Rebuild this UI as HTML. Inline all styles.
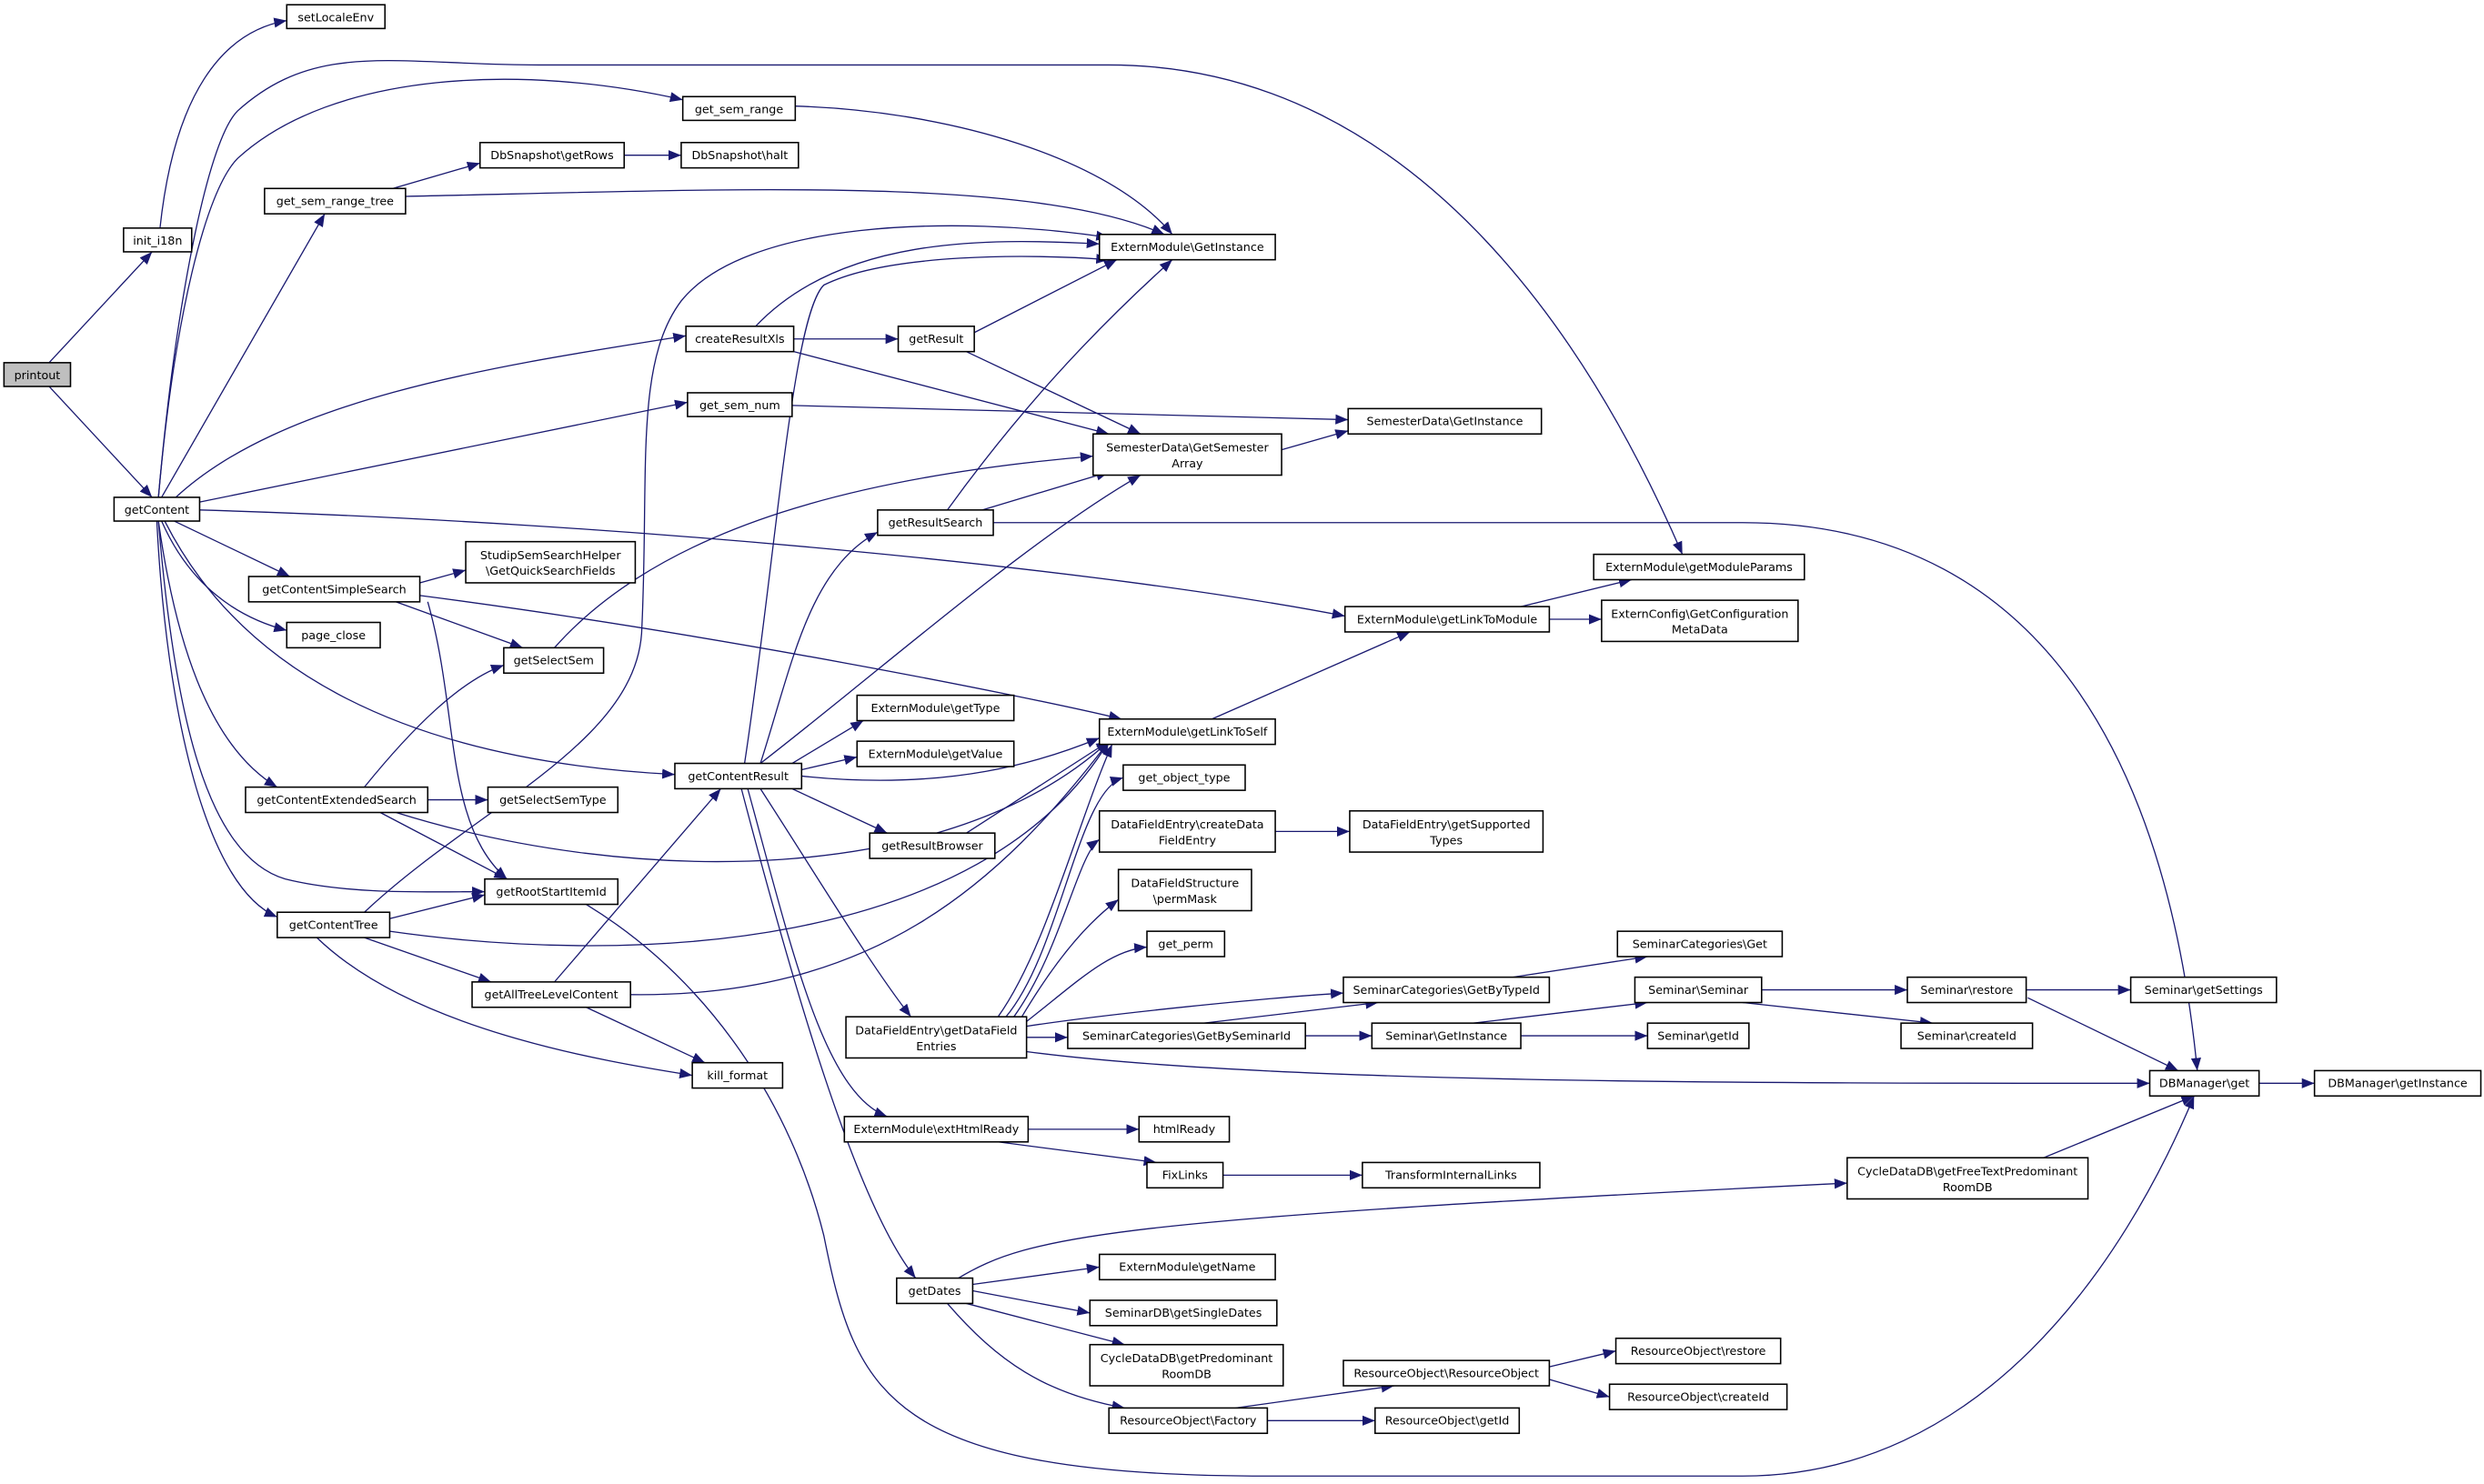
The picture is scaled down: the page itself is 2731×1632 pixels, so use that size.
<!DOCTYPE html>
<html><head><meta charset="utf-8"><style>
html,body{margin:0;padding:0;background:#fff;}
svg{display:block;}
text{font-family:"DejaVu Sans","Liberation Sans",sans-serif;font-size:7.3px;fill:#000;text-anchor:middle;}
.n{fill:#fff;stroke:#000;stroke-width:0.9;}
.e{fill:none;stroke:#191970;stroke-width:0.75;marker-end:url(#a);}
</style></head><body>
<svg width="2731" height="1632" viewBox="0 0 1568 937" xmlns="http://www.w3.org/2000/svg">
<defs><marker id="a" viewBox="0 0 10 10" refX="10" refY="5" markerWidth="8" markerHeight="8" markerUnits="userSpaceOnUse" orient="auto"><path d="M0,1 L10,5 L0,9 z" fill="#191970"/></marker></defs>
<g>
<path class="e" d="M31,229 L96,159"/>
<path class="e" d="M31,244 L96,314"/>
<path class="e" d="M101,144 C110,60 140,20 181,13"/>
<path class="e" d="M100,314 C110,200 130,90 150,70 C200,25 250,41 340,41 L700,41 C900,41 1010,230 1062,350"/>
<path class="e" d="M100,314 C110,200 130,120 150,100 C210,45 330,40 431,63"/>
<path class="e" d="M502,67 C600,70 700,100 740,148"/>
<path class="e" d="M248,119 L303,103"/>
<path class="e" d="M394,98 L430,98"/>
<path class="e" d="M256,124 C450,120 650,110 735,148"/>
<path class="e" d="M102,314 L205,135"/>
<path class="e" d="M111,314 C180,250 320,230 433,212"/>
<path class="e" d="M126,317 L434,254"/>
<path class="e" d="M126,322 C400,330 700,360 849,389"/>
<path class="e" d="M110,329 L183,364"/>
<path class="e" d="M102,329 C120,370 150,390 181,398"/>
<path class="e" d="M104,329 C150,420 250,480 426,489"/>
<path class="e" d="M100,329 C110,400 130,470 175,497"/>
<path class="e" d="M100,329 C110,450 130,540 180,555 C220,565 270,563 306,563"/>
<path class="e" d="M99,329 C105,450 130,560 175,579"/>
<path class="e" d="M477,206 C530,150 620,150 694,154"/>
<path class="e" d="M501,214 L567,214"/>
<path class="e" d="M501,222 L700,274"/>
<path class="e" d="M615,210 L705,164"/>
<path class="e" d="M610,222 L720,274"/>
<path class="e" d="M500,256 L851,265"/>
<path class="e" d="M809,284 L851,272"/>
<path class="e" d="M620,322 L700,298"/>
<path class="e" d="M598,322 C650,250 700,200 740,164"/>
<path class="e" d="M627,330 L1100,330 C1300,330 1370,500 1387,676"/>
<path class="e" d="M265,368 L294,360"/>
<path class="e" d="M250,380 L330,409"/>
<path class="e" d="M265,376 C450,400 650,440 708,454"/>
<path class="e" d="M270,380 C290,450 280,520 320,555"/>
<path class="e" d="M350,409 C420,330 550,300 690,288"/>
<path class="e" d="M765,454 L890,399"/>
<path class="e" d="M960,383 L1030,366"/>
<path class="e" d="M978,391 L1011,391"/>
<path class="e" d="M470,482 C490,350 500,200 520,180 C560,160 650,160 700,164"/>
<path class="e" d="M480,482 C560,420 650,340 720,300"/>
<path class="e" d="M480,482 C500,420 510,360 554,336"/>
<path class="e" d="M500,482 L545,455"/>
<path class="e" d="M506,486 L541,478"/>
<path class="e" d="M506,490 C600,500 660,480 694,466"/>
<path class="e" d="M500,498 L560,526"/>
<path class="e" d="M480,498 C520,560 550,610 575,642"/>
<path class="e" d="M472,498 C500,600 520,690 560,705"/>
<path class="e" d="M468,498 C500,620 540,760 578,807"/>
<path class="e" d="M610,526 L700,468"/>
<path class="e" d="M630,642 C660,600 680,520 702,470"/>
<path class="e" d="M635,642 C670,600 680,500 709,491"/>
<path class="e" d="M640,642 C670,600 680,540 694,530"/>
<path class="e" d="M645,642 C670,600 690,580 706,568"/>
<path class="e" d="M648,645 C680,620 700,600 724,598"/>
<path class="e" d="M648,648 C700,640 800,630 848,627"/>
<path class="e" d="M648,655 L674,655"/>
<path class="e" d="M648,664 C800,684 1100,684 1357,684"/>
<path class="e" d="M805,525 L852,525"/>
<path class="e" d="M760,646 L870,633"/>
<path class="e" d="M824,654 L866,654"/>
<path class="e" d="M955,617 L1040,604"/>
<path class="e" d="M930,646 L1040,633"/>
<path class="e" d="M960,654 L1040,654"/>
<path class="e" d="M1112,625 L1204,625"/>
<path class="e" d="M1100,633 L1220,646"/>
<path class="e" d="M1279,625 L1345,625"/>
<path class="e" d="M1280,630 L1375,676"/>
<path class="e" d="M1426,684 L1461,684"/>
<path class="e" d="M649,713 L719,713"/>
<path class="e" d="M630,721 L730,734"/>
<path class="e" d="M772,742 L860,742"/>
<path class="e" d="M1290,731 L1385,692"/>
<path class="e" d="M605,807 C650,780 700,770 1166,747"/>
<path class="e" d="M614,811 L694,800"/>
<path class="e" d="M614,815 L688,829"/>
<path class="e" d="M610,823 L710,849"/>
<path class="e" d="M598,823 C630,860 660,880 710,889"/>
<path class="e" d="M780,889 L880,875"/>
<path class="e" d="M800,897 L868,897"/>
<path class="e" d="M978,863 L1020,853"/>
<path class="e" d="M978,871 L1016,882"/>
<path class="e" d="M230,497 C260,460 290,430 318,420"/>
<path class="e" d="M270,505 L308,505"/>
<path class="e" d="M240,513 L320,555"/>
<path class="e" d="M250,513 C400,560 600,560 700,468"/>
<path class="e" d="M230,576 C300,510 400,470 405,400 C410,300 400,230 430,190 C470,140 600,135 700,150"/>
<path class="e" d="M246,580 L306,565"/>
<path class="e" d="M246,588 C400,610 620,600 700,468"/>
<path class="e" d="M230,592 L310,620"/>
<path class="e" d="M200,592 C260,650 380,670 437,679"/>
<path class="e" d="M350,620 L455,498"/>
<path class="e" d="M398,628 C550,630 630,560 700,468"/>
<path class="e" d="M370,636 L445,671"/>
<path class="e" d="M370,571 C450,620 500,700 520,780 C540,880 560,932 800,932 L1100,932 C1250,932 1340,800 1385,692"/>
</g>
<g>
<rect x="2.5" y="229" width="42" height="15" style="fill:#bfbfbf;stroke:#000;stroke-width:0.9"/><text x="23.5" y="239.5">printout</text>
<rect class="n" x="78" y="144" width="43" height="15"/><text x="99.5" y="154.5">init_i18n</text>
<rect class="n" x="181" y="3" width="62" height="15"/><text x="212" y="13.5">setLocaleEnv</text>
<rect class="n" x="72" y="314" width="54" height="15"/><text x="99" y="324.5">getContent</text>
<rect class="n" x="431" y="61" width="71" height="15"/><text x="466.5" y="71.5">get_sem_range</text>
<rect class="n" x="303" y="90" width="91" height="16"/><text x="348.5" y="100.5">DbSnapshot\getRows</text>
<rect class="n" x="430" y="90" width="74" height="16"/><text x="467" y="100.5">DbSnapshot\halt</text>
<rect class="n" x="167" y="119" width="89" height="16"/><text x="211.5" y="129.5">get_sem_range_tree</text>
<rect class="n" x="433" y="206" width="68" height="16"/><text x="467" y="216.5">createResultXls</text>
<rect class="n" x="434" y="248" width="66" height="15"/><text x="467" y="258.5">get_sem_num</text>
<rect class="n" x="694" y="148" width="111" height="16"/><text x="749.5" y="158.5">ExternModule\GetInstance</text>
<rect class="n" x="567" y="206" width="48" height="16"/><text x="591" y="216.5">getResult</text>
<rect class="n" x="690" y="274" width="119" height="26"/><text x="749.5" y="285">SemesterData\GetSemester</text><text x="749.5" y="295">Array</text>
<rect class="n" x="851" y="258" width="122" height="16"/><text x="912" y="268.5">SemesterData\GetInstance</text>
<rect class="n" x="554" y="322" width="73" height="16"/><text x="590.5" y="332.5">getResultSearch</text>
<rect class="n" x="1006" y="350" width="133" height="16"/><text x="1072.5" y="360.5">ExternModule\getModuleParams</text>
<rect class="n" x="294" y="342" width="107" height="26"/><text x="347.5" y="353">StudipSemSearchHelper</text><text x="347.5" y="363">\GetQuickSearchFields</text>
<rect class="n" x="157" y="364" width="108" height="16"/><text x="211" y="374.5">getContentSimpleSearch</text>
<rect class="n" x="181" y="393" width="59" height="16"/><text x="210.5" y="403.5">page_close</text>
<rect class="n" x="318" y="409" width="63" height="16"/><text x="349.5" y="419.5">getSelectSem</text>
<rect class="n" x="849" y="383" width="129" height="16"/><text x="913.5" y="393.5">ExternModule\getLinkToModule</text>
<rect class="n" x="1011" y="379" width="124" height="26"/><text x="1073" y="390">ExternConfig\GetConfiguration</text><text x="1073" y="400">MetaData</text>
<rect class="n" x="541" y="439" width="99" height="16"/><text x="590.5" y="449.5">ExternModule\getType</text>
<rect class="n" x="694" y="454" width="111" height="16"/><text x="749.5" y="464.5">ExternModule\getLinkToSelf</text>
<rect class="n" x="541" y="468" width="99" height="16"/><text x="590.5" y="478.5">ExternModule\getValue</text>
<rect class="n" x="426" y="482" width="80" height="16"/><text x="466" y="492.5">getContentResult</text>
<rect class="n" x="709" y="483" width="77" height="16"/><text x="747.5" y="493.5">get_object_type</text>
<rect class="n" x="155" y="497" width="115" height="16"/><text x="212.5" y="507.5">getContentExtendedSearch</text>
<rect class="n" x="308" y="497" width="82" height="16"/><text x="349" y="507.5">getSelectSemType</text>
<rect class="n" x="694" y="512" width="111" height="26"/><text x="749.5" y="523">DataFieldEntry\createData</text><text x="749.5" y="533">FieldEntry</text>
<rect class="n" x="852" y="512" width="122" height="26"/><text x="913" y="523">DataFieldEntry\getSupported</text><text x="913" y="533">Types</text>
<rect class="n" x="549" y="526" width="79" height="16"/><text x="588.5" y="536.5">getResultBrowser</text>
<rect class="n" x="706" y="549" width="84" height="26"/><text x="748" y="560">DataFieldStructure</text><text x="748" y="570">\permMask</text>
<rect class="n" x="306" y="555" width="84" height="16"/><text x="348" y="565.5">getRootStartItemId</text>
<rect class="n" x="175" y="576" width="71" height="16"/><text x="210.5" y="586.5">getContentTree</text>
<rect class="n" x="724" y="588" width="49" height="16"/><text x="748.5" y="598.5">get_perm</text>
<rect class="n" x="1021" y="588" width="104" height="16"/><text x="1073" y="598.5">SeminarCategories\Get</text>
<rect class="n" x="848" y="617" width="130" height="16"/><text x="913" y="627.5">SeminarCategories\GetByTypeId</text>
<rect class="n" x="298" y="620" width="100" height="16"/><text x="348" y="630.5">getAllTreeLevelContent</text>
<rect class="n" x="1032" y="617" width="80" height="16"/><text x="1072" y="627.5">Seminar\Seminar</text>
<rect class="n" x="1204" y="617" width="75" height="16"/><text x="1241.5" y="627.5">Seminar\restore</text>
<rect class="n" x="1345" y="617" width="92" height="16"/><text x="1391" y="627.5">Seminar\getSettings</text>
<rect class="n" x="534" y="642" width="114" height="26"/><text x="591" y="653">DataFieldEntry\getDataField</text><text x="591" y="663">Entries</text>
<rect class="n" x="674" y="646" width="150" height="16"/><text x="749" y="656.5">SeminarCategories\GetBySeminarId</text>
<rect class="n" x="866" y="646" width="94" height="16"/><text x="913" y="656.5">Seminar\GetInstance</text>
<rect class="n" x="1040" y="646" width="64" height="16"/><text x="1072" y="656.5">Seminar\getId</text>
<rect class="n" x="1200" y="646" width="83" height="16"/><text x="1241.5" y="656.5">Seminar\createId</text>
<rect class="n" x="437" y="671" width="57" height="16"/><text x="465.5" y="681.5">kill_format</text>
<rect class="n" x="1357" y="676" width="69" height="16"/><text x="1391.5" y="686.5">DBManager\get</text>
<rect class="n" x="1461" y="676" width="105" height="16"/><text x="1513.5" y="686.5">DBManager\getInstance</text>
<rect class="n" x="533" y="705" width="116" height="16"/><text x="591" y="715.5">ExternModule\extHtmlReady</text>
<rect class="n" x="719" y="705" width="57" height="16"/><text x="747.5" y="715.5">htmlReady</text>
<rect class="n" x="724" y="734" width="48" height="16"/><text x="748" y="744.5">FixLinks</text>
<rect class="n" x="860" y="734" width="112" height="16"/><text x="916" y="744.5">TransformInternalLinks</text>
<rect class="n" x="1166" y="731" width="152" height="26"/><text x="1242" y="742">CycleDataDB\getFreeTextPredominant</text><text x="1242" y="752">RoomDB</text>
<rect class="n" x="694" y="792" width="111" height="16"/><text x="749.5" y="802.5">ExternModule\getName</text>
<rect class="n" x="566" y="807" width="48" height="16"/><text x="590" y="817.5">getDates</text>
<rect class="n" x="688" y="821" width="118" height="16"/><text x="747" y="831.5">SeminarDB\getSingleDates</text>
<rect class="n" x="688" y="849" width="122" height="26"/><text x="749" y="860">CycleDataDB\getPredominant</text><text x="749" y="870">RoomDB</text>
<rect class="n" x="848" y="859" width="130" height="16"/><text x="913" y="869.5">ResourceObject\ResourceObject</text>
<rect class="n" x="1020" y="845" width="104" height="16"/><text x="1072" y="855.5">ResourceObject\restore</text>
<rect class="n" x="1016" y="874" width="112" height="16"/><text x="1072" y="884.5">ResourceObject\createId</text>
<rect class="n" x="700" y="889" width="100" height="16"/><text x="750" y="899.5">ResourceObject\Factory</text>
<rect class="n" x="868" y="889" width="91" height="16"/><text x="913.5" y="899.5">ResourceObject\getId</text>
</g>
</svg>
</body></html>
